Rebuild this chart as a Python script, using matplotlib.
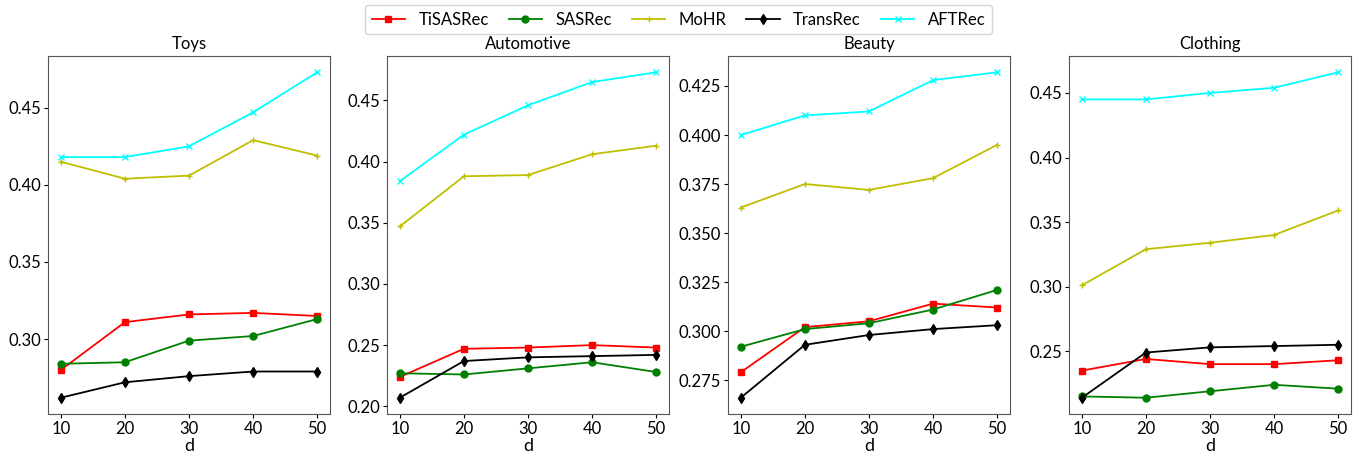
import matplotlib
matplotlib.use("Agg")
import matplotlib.pyplot as plt

plt.rcParams['font.family'] = ['Lato', 'DejaVu Sans']

d_values = [10, 20, 30, 40, 50]
datasets = ["Toys", "Automotive", "Beauty", "Clothing"]
methods = ["TiSASRec", "SASRec", "MoHR", "TransRec", "AFTRec"]

toys = {
    "TiSASRec": [0.280, 0.311, 0.316, 0.317, 0.315],
    "SASRec":   [0.284, 0.285, 0.299, 0.302, 0.313],
    "MoHR":     [0.415, 0.404, 0.406, 0.429, 0.419],
    "TransRec": [0.262, 0.272, 0.276, 0.279, 0.279],
    "AFTRec":   [0.418, 0.418, 0.425, 0.447, 0.473],
}
automotive = {
    "TiSASRec": [0.224, 0.247, 0.248, 0.250, 0.248],
    "SASRec":   [0.227, 0.226, 0.231, 0.236, 0.228],
    "MoHR":     [0.347, 0.388, 0.389, 0.406, 0.413],
    "TransRec": [0.207, 0.237, 0.240, 0.241, 0.242],
    "AFTRec":   [0.384, 0.422, 0.446, 0.465, 0.473],
}
beauty = {
    "TiSASRec": [0.279, 0.302, 0.305, 0.314, 0.312],
    "SASRec":   [0.292, 0.301, 0.304, 0.311, 0.321],
    "MoHR":     [0.363, 0.375, 0.372, 0.378, 0.395],
    "TransRec": [0.266, 0.293, 0.298, 0.301, 0.303],
    "AFTRec":   [0.400, 0.410, 0.412, 0.428, 0.432],
}
clothing = {
    "TiSASRec": [0.235, 0.244, 0.240, 0.240, 0.243],
    "SASRec":   [0.215, 0.214, 0.219, 0.224, 0.221],
    "MoHR":     [0.301, 0.329, 0.334, 0.340, 0.359],
    "TransRec": [0.214, 0.249, 0.253, 0.254, 0.255],
    "AFTRec":   [0.445, 0.445, 0.450, 0.454, 0.466],
}
all_data = [toys, automotive, beauty, clothing]

styles = {
    "TiSASRec": dict(color="red", marker="s"),
    "SASRec":   dict(color="green", marker="o"),
    "MoHR":     dict(color="#bfbf00", marker="+"),
    "TransRec": dict(color="black", marker="d"),
    "AFTRec":   dict(color="cyan", marker="x"),
}

fig = plt.figure(figsize=(13.57, 4.55), dpi=100)
lefts = [48, 387, 728, 1069]
W = 282
bottom = 1 - 414 / 455
height = (414 - 56) / 455
axes = []
for i, (name, data) in enumerate(zip(datasets, all_data)):
    ax = fig.add_axes([lefts[i] / 1357, bottom, W / 1357, height])
    for m in methods:
        ax.plot(d_values, data[m], label=m, linewidth=1.3, markersize=5,
                **styles[m])
    ax.set_title(name, fontsize=12, pad=5)
    ax.set_xlabel("d", fontsize=13, labelpad=1)
    ax.set_xticks(d_values)
    ax.tick_params(labelsize=12, length=3, pad=2)
    for s in ax.spines.values():
        s.set_color("#555555")
    axes.append(ax)

axes[2].yaxis.set_major_formatter(matplotlib.ticker.FormatStrFormatter('%.3f'))
axes[1].yaxis.set_major_formatter(matplotlib.ticker.FormatStrFormatter('%.2f'))

handles, labels = axes[0].get_legend_handles_labels()
fig.legend(handles, labels, loc="upper center", ncol=5, fontsize=12,
           bbox_to_anchor=(0.5, 1.0), frameon=True, handlelength=2.0,
           columnspacing=1.2, borderaxespad=0.3)

fig.savefig("out.png", dpi=100)
